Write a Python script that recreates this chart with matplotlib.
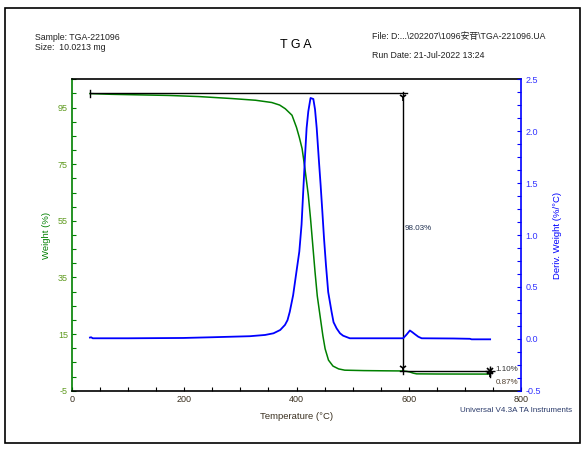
import matplotlib
matplotlib.use("Agg")
import matplotlib.pyplot as plt
from matplotlib.ticker import MultipleLocator, FixedLocator
from matplotlib.patches import Rectangle

plt.rcParams['font.family'] = ['Liberation Sans', 'Noto Sans CJK SC', 'DejaVu Sans']

# ---- data ----
temp_w = [32, 70, 120, 172, 226, 285, 327, 356, 370, 380, 392, 400, 405, 410, 415,
          421, 425, 429, 433, 437, 442, 447, 451, 457, 465, 475, 486, 520, 560,
          590, 596, 602, 608, 614, 650, 700, 745]
weight = [99.95, 99.7, 99.5, 99.3, 98.9, 98.2, 97.6, 96.8, 95.9, 94.6, 92.3, 88.0,
          84.5, 80.5, 73.5, 64.1, 55.8, 46.4, 37.0, 28.5, 21.4, 14.4, 9.8, 5.8,
          3.7, 2.7, 2.25, 2.1, 2.02, 1.97, 1.85, 1.6, 1.2, 0.95, 0.9, 0.88, 0.87]

temp_d = [32, 34, 37, 100, 198, 250, 317, 344, 359, 371, 379.5, 384, 388, 394, 400,
          405, 409, 412, 415, 418, 421, 425, 430, 433, 436, 440, 443, 446, 449,
          452.5, 456.5, 462.5, 466, 471.5, 477.5, 483, 495, 550, 590, 596, 602,
          606, 611, 617, 623, 680, 709, 712, 745]
deriv = [0.012, 0.015, 0.005, 0.005, 0.008, 0.015, 0.025, 0.037, 0.053, 0.085, 0.134,
         0.18, 0.26, 0.42, 0.65, 0.84, 1.10, 1.42, 1.74, 2.03, 2.19, 2.32, 2.31,
         2.21, 2.03, 1.71, 1.48, 1.23, 0.97, 0.71, 0.45, 0.26, 0.16, 0.10, 0.053,
         0.03, 0.005, 0.005, 0.005, 0.04, 0.08, 0.065, 0.044, 0.02, 0.005, 0.003,
         0.0, -0.005, -0.005]

x_ticks = [0, 200, 400, 600, 800]
w_ticks = [-5, 15, 35, 55, 75, 95]
d_ticks = [-0.5, 0.0, 0.5, 1.0, 1.5, 2.0, 2.5]

start_T, step_T, end_T = 32, 590, 745
start_W, step_W, end_W = 100.0, 1.97, 0.87
loss1_label = "98.03%"
loss2_label = "1.10%"
resid_label = "0.87%"

GREEN = '#008000'
BLUE = '#0000ff'

fig = plt.figure(figsize=(5.86, 4.49), dpi=100)
W_px, H_px = 586, 449
fig.patches.append(Rectangle((5 / W_px, 1 - 443 / H_px), 575 / W_px, 435 / H_px,
                             transform=fig.transFigure, fill=False, lw=1.2,
                             edgecolor='black', zorder=0))

ax = fig.add_axes([72 / W_px, 1 - 390.7 / H_px, 449 / W_px, 311.4 / H_px])
ax2 = ax.twinx()

ax.plot(temp_w, weight, color=GREEN, lw=1.1, zorder=3)
ax2.plot(temp_d, deriv, color=BLUE, lw=1.3, zorder=3)

ax.set_xlim(0, 800)
ax.set_ylim(-5, 105)
ax2.set_ylim(-0.5, 2.5)

# annotations
k = 'black'
ax.plot([start_T, step_T + 6], [start_W, start_W], color=k, lw=1.0, zorder=4)
ax.plot([start_T, start_T], [start_W - 1.3, start_W + 1.3], color=k, lw=1.0, zorder=4)
ax.plot([step_T, step_T], [start_W + 0.5, step_W - 1.0], color=k, lw=1.0, zorder=4)
ax.plot([step_T - 6, end_T], [step_W, step_W], color=k, lw=1.0, zorder=4)
ax.plot([end_T, end_T], [step_W + 1.2, end_W - 1.2], color=k, lw=1.0, zorder=4)
ax.plot([step_T], [start_W - 1.2], marker='1', ms=6, color=k, mew=1.2, zorder=5)
ax.plot([step_T], [step_W + 1.0], marker='1', ms=6, color=k, mew=1.2, zorder=5)
ax.plot([end_T], [step_W], marker='x', ms=5, color=k, mew=1.2, zorder=5)
ax.plot([end_T], [end_W], marker='1', ms=5, color=k, mew=1.2, zorder=5)
ax.plot([end_T], [step_W], marker='+', ms=7, color=k, mew=1.0, zorder=5)

ax.text(step_T + 3, 52.2, loss1_label, fontsize=5.8, color='#203050', va='center', ha='left')
ax.text(end_T + 10, step_W + 0.6, loss2_label, fontsize=5.8, color='#303030', va='center', ha='left')
ax.text(end_T + 10, end_W - 2.9, resid_label, fontsize=5.8, color='#504030', va='center', ha='left')

# axes styling
ax.spines['left'].set_color(GREEN)
ax.spines['right'].set_visible(False)
ax.spines['top'].set_color('black')
ax.spines['bottom'].set_color('black')
for s in ['left', 'top', 'bottom']:
    ax2.spines[s].set_visible(False)
ax2.spines['right'].set_color(BLUE)
for a in (ax, ax2):
    for sp in a.spines.values():
        sp.set_linewidth(1.2)

ax.xaxis.set_major_locator(FixedLocator(x_ticks))
ax.xaxis.set_minor_locator(MultipleLocator(50))
ax.yaxis.set_major_locator(FixedLocator(w_ticks))
ax.yaxis.set_minor_locator(MultipleLocator(5))
ax2.yaxis.set_major_locator(FixedLocator(d_ticks))
ax2.yaxis.set_minor_locator(MultipleLocator(0.125))

ax.set_xticklabels([str(v) for v in x_ticks])
ax.set_yticklabels([str(v) for v in w_ticks])
ax2.set_yticklabels([f"{v:.1f}" for v in d_ticks])

ax.tick_params(axis='x', which='both', direction='in', length=3, width=0.8,
               labelsize=6.5, labelcolor='#3a3020', pad=3, top=False)
ax.tick_params(axis='y', which='both', direction='in', length=3, width=0.8,
               labelsize=6.5, labelcolor='#5f9a1f', color=GREEN, pad=3, right=False)
ax2.tick_params(axis='y', which='both', direction='in', length=3, width=0.8,
                labelsize=6.5, labelcolor='#3333ff', color=BLUE, pad=3)

ax.set_xlabel("Temperature (°C)", fontsize=6.8, color='#3a3020', labelpad=6)
ax.set_ylabel("Weight (%)", fontsize=6.8, color=GREEN, labelpad=5)
ax2.set_ylabel("Deriv. Weight (%/°C)", fontsize=6.8, color=BLUE, labelpad=9)

# header texts
def fx(px):
    return px / W_px

def fy(py):
    return 1 - py / H_px

fig.text(fx(35), fy(37), "Sample: TGA-221096", fontsize=6.3, va='center', ha='left', color='#202020')
fig.text(fx(35), fy(47), "Size:  10.0213 mg", fontsize=6.3, va='center', ha='left', color='#202020')
fig.text(fx(296), fy(45), "T G A", fontsize=9, va='center', ha='center', color='black')
fig.text(fx(372), fy(37), "File: D:...\\202207\\1096安苷\\TGA-221096.UA", fontsize=6.3,
         va='center', ha='left', color='#202020')
fig.text(fx(372), fy(55), "Run Date: 21-Jul-2022 13:24", fontsize=6.3, va='center',
         ha='left', color='#202020')
fig.text(fx(572), fy(410), "Universal V4.3A TA Instruments", fontsize=5.8, va='center',
         ha='right', color='#2a3a6a')

fig.savefig("out.png", dpi=100)
